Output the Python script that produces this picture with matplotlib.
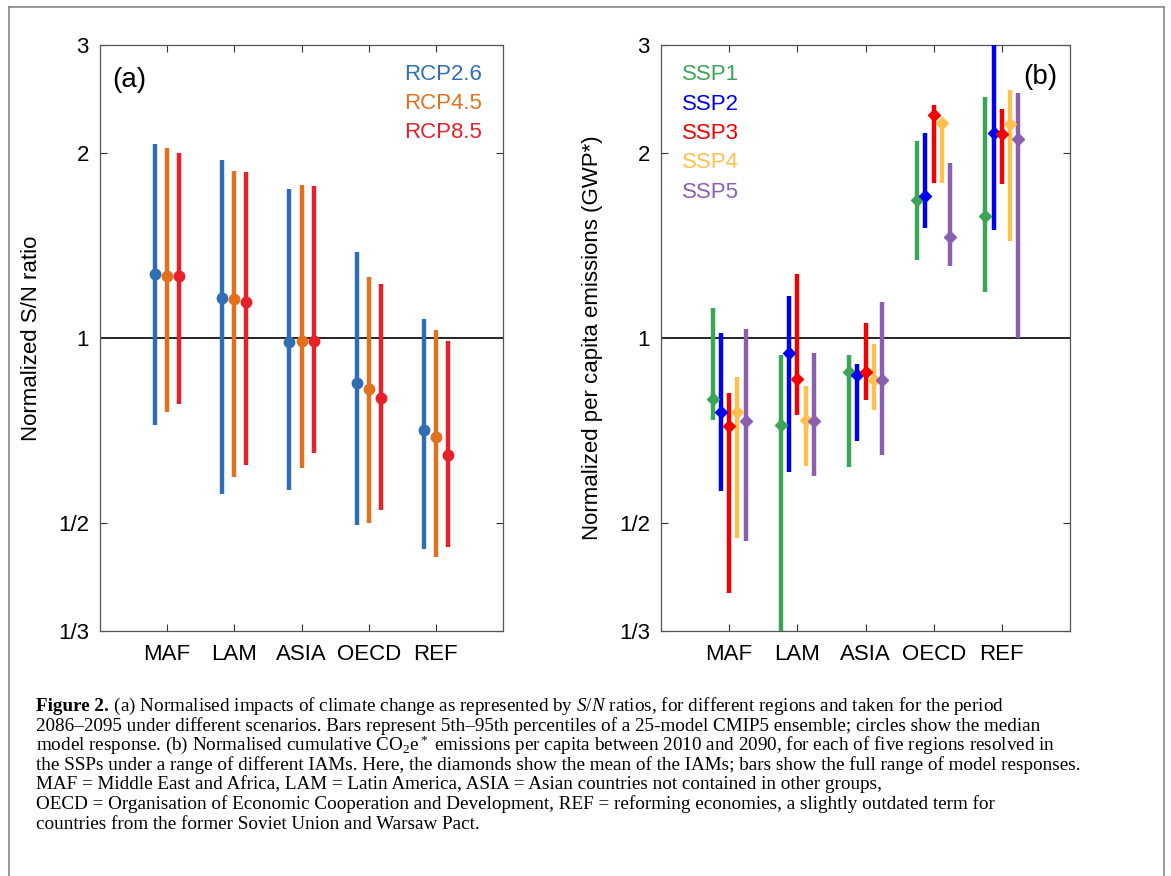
import numpy as np
import matplotlib
matplotlib.use("Agg")
import matplotlib.pyplot as plt
from matplotlib.lines import Line2D

plt.rcParams['font.family'] = ['Liberation Sans', 'DejaVu Sans']
plt.rcParams['mathtext.fontset'] = 'custom'
plt.rcParams['mathtext.rm'] = 'Liberation Serif'
plt.rcParams['mathtext.it'] = 'Liberation Serif:italic'

regions = ['MAF', 'LAM', 'ASIA', 'OECD', 'REF']

# --- (a) S/N ratios: median and 5th-95th percentiles ---
rcp_names = ['RCP2.6', 'RCP4.5', 'RCP8.5']
rcp_colors = ['#2f6db5', '#e2711d', '#e8202a']
rcp26_med = [1.27, 1.16, 0.984, 0.844, 0.708]
rcp26_lo = [0.723, 0.558, 0.565, 0.496, 0.453]
rcp26_hi = [2.07, 1.95, 1.75, 1.38, 1.073]
rcp45_med = [1.26, 1.156, 0.989, 0.827, 0.689]
rcp45_lo = [0.759, 0.594, 0.615, 0.50, 0.44]
rcp45_hi = [2.04, 1.87, 1.775, 1.258, 1.03]
rcp85_med = [1.26, 1.146, 0.989, 0.80, 0.646]
rcp85_lo = [0.781, 0.620, 0.65, 0.524, 0.456]
rcp85_hi = [2.00, 1.86, 1.77, 1.226, 0.99]

# --- (b) per capita emissions: IAM mean and full range ---
ssp_names = ['SSP1', 'SSP2', 'SSP3', 'SSP4', 'SSP5']
ssp_colors = ['#3aa655', '#0000f0', '#f50000', '#ffc04d', '#8b5fb0']
ssp1_mean = [0.795, 0.723, 0.88, 1.68, 1.58]
ssp1_lo = [0.735, 0.32, 0.617, 1.34, 1.19]
ssp1_hi = [1.12, 0.94, 0.94, 2.09, 2.47]
ssp2_mean = [0.758, 0.944, 0.870, 1.70, 2.16]
ssp2_lo = [0.563, 0.604, 0.68, 1.51, 1.50]
ssp2_hi = [1.02, 1.17, 0.908, 2.16, 3.1]
ssp3_mean = [0.72, 0.859, 0.88, 2.31, 2.15]
ssp3_lo = [0.385, 0.749, 0.793, 1.79, 1.78]
ssp3_hi = [0.813, 1.27, 1.056, 2.40, 2.36]
ssp4_mean = [0.758, 0.735, 0.854, 2.24, 2.23]
ssp4_lo = [0.473, 0.619, 0.763, 1.79, 1.44]
ssp4_hi = [0.865, 0.836, 0.978, 2.27, 2.53]
ssp5_mean = [0.733, 0.733, 0.854, 1.46, 2.11]
ssp5_lo = [0.468, 0.597, 0.645, 1.31, 1.0]
ssp5_hi = [1.035, 0.944, 1.145, 1.93, 2.51]

yticks = [1/3, 1/2, 1, 2, 3]
ylabels = ['1/3', '1/2', '1', '2', '3']

caption = [
    " (a) Normalised impacts of climate change as represented by $S/N$ ratios, for different regions and taken for the period",
    "2086–2095 under different scenarios. Bars represent 5th–95th percentiles of a 25-model CMIP5 ensemble; circles show the median",
    "model response. (b) Normalised cumulative CO$_2$e$^*$ emissions per capita between 2010 and 2090, for each of five regions resolved in",
    "the SSPs under a range of different IAMs. Here, the diamonds show the mean of the IAMs; bars show the full range of model responses.",
    "MAF = Middle East and Africa, LAM = Latin America, ASIA = Asian countries not contained in other groups,",
    "OECD = Organisation of Economic Cooperation and Development, REF = reforming economies, a slightly outdated term for",
    "countries from the former Soviet Union and Warsaw Pact.",
]

W, H = 1171, 876
fig = plt.figure(figsize=(W/100, H/100), dpi=100)
ax1 = fig.add_axes([100/W, 1-631/H, 403/W, 586/H])
ax2 = fig.add_axes([661/W, 1-631/H, 409/W, 586/H])

def style(ax):
    ax.set_yscale('log')
    ax.set_ylim(1/3, 3)
    ax.set_xlim(0, 6)
    ax.set_yticks(yticks, ylabels)
    ax.yaxis.set_minor_locator(matplotlib.ticker.NullLocator())
    ax.set_xticks(range(1, 6), regions)
    ax.tick_params(direction='in', top=True, right=True, length=5,
                   width=0.8, color='#333333', labelsize=16, pad=8)
    ax.tick_params(axis='x', pad=9)
    for s in ax.spines.values():
        s.set_color('#555555')
        s.set_linewidth(0.9)
    ax.axhline(1, color='k', lw=1.2, zorder=1)

x = np.arange(1, 6)

# panel (a)
a_sets = [(rcp26_lo, rcp26_hi, rcp26_med),
          (rcp45_lo, rcp45_hi, rcp45_med),
          (rcp85_lo, rcp85_hi, rcp85_med)]
for k, (lo, hi, med) in enumerate(a_sets):
    xx = x + (k - 1) * 0.18
    ax1.vlines(xx, lo, hi, color=rcp_colors[k], lw=3.2, zorder=3)
    ax1.plot(xx, med, 'o', color=rcp_colors[k], ms=7.5, zorder=4)
style(ax1)
ax1.set_ylabel('Normalized S/N ratio', fontsize=16)
ax1.yaxis.set_label_coords(-0.145, 0.5)
ax1.text(0.03, 0.94, '(a)', transform=ax1.transAxes, fontsize=20, va='center', ha='left')
for k, name in enumerate(rcp_names):
    ax1.text(0.948, 0.949 - k*0.0495, name, transform=ax1.transAxes, fontsize=16,
             color=rcp_colors[k], ha='right', va='center')

# panel (b)
b_sets = [(ssp1_lo, ssp1_hi, ssp1_mean), (ssp2_lo, ssp2_hi, ssp2_mean),
          (ssp3_lo, ssp3_hi, ssp3_mean), (ssp4_lo, ssp4_hi, ssp4_mean),
          (ssp5_lo, ssp5_hi, ssp5_mean)]
for k, (lo, hi, mn) in enumerate(b_sets):
    xx = x + (k - 2) * 0.12
    ax2.vlines(xx, lo, hi, color=ssp_colors[k], lw=3.2, zorder=3)
    ax2.plot(xx, mn, 'D', color=ssp_colors[k], ms=6, zorder=4)
style(ax2)
ax2.set_ylabel('Normalized per capita emissions (GWP*)', fontsize=16)
ax2.yaxis.set_label_coords(-0.142, 0.5)
ax2.text(0.968, 0.945, '(b)', transform=ax2.transAxes, fontsize=20, va='center', ha='right')
for k, name in enumerate(ssp_names):
    ax2.text(0.051, 0.949 - k*0.05, name, transform=ax2.transAxes, fontsize=16,
             color=ssp_colors[k], ha='left', va='center')

# outer frame (open at the bottom)
for xs_, ys_ in [([9/W, 9/W], [0, 1-7/H]), ([9/W, 1164/W], [1-7/H, 1-7/H]),
                 ([1164/W, 1164/W], [1-7/H, 0])]:
    fig.add_artist(Line2D(xs_, ys_, color='#888888', lw=1.2))

# caption
cap_kw = dict(fontsize=13.8, family='Liberation Serif', va='baseline')
x0 = 36/W
y0 = 1 - 711/H
dy = 19.6/H
fig.canvas.draw()
r = fig.canvas.get_renderer()
t = fig.text(x0, y0, 'Figure 2.', fontweight='bold', **cap_kw)
bb = t.get_window_extent(renderer=r)
fig.text(bb.x1/W, y0, caption[0], **cap_kw)
for i, line in enumerate(caption[1:], start=1):
    fig.text(x0, y0 - i*dy, line, **cap_kw)

fig.savefig('out.png', dpi=100)
